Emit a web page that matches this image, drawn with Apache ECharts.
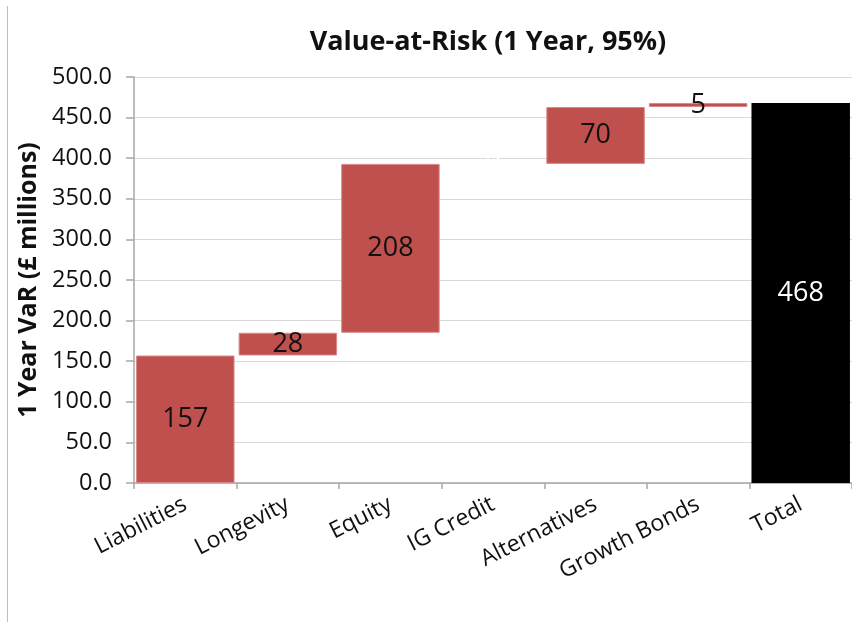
<!DOCTYPE html>
<html>
<head>
<meta charset="utf-8">
<script src="https://cdn.jsdelivr.net/npm/echarts@6/dist/echarts.min.js"></script>
<style>html,body{margin:0;padding:0;background:#fff}#c{width:852px;height:622px}</style>
</head>
<body>
<div id="c"></div>
<script>
var categories = ['Liabilities', 'Longevity', 'Equity', 'IG Credit', 'Alternatives', 'Growth Bonds', 'Total'];
var baseValues = [0, 157, 185, 393, 393, 463, 0];
var stepValues = [157, 28, 208, 0, 70, 5, 468];
var yTicks = {min: 0, max: 500, interval: 50};

var chart = echarts.init(document.getElementById('c'), null, {renderer: 'canvas'});
var FONT = '"Open Sans", "DejaVu Sans", sans-serif';
var barData = stepValues.map(function (v, i) {
  var isTotal = i === categories.length - 1;
  var isZero = v === 0;
  return {
    value: v,
    itemStyle: {
      color: isTotal ? '#000000' : '#C0504D',
      borderColor: isTotal ? '#000000' : '#D98A88',
      borderWidth: (isTotal || isZero) ? 0 : 1
    },
    label: {color: (isTotal || isZero) ? '#ffffff' : '#111111'}
  };
});
chart.setOption({
  animation: false,
  title: {
    text: 'Value-at-Risk (1 Year, 95%)',
    left: 483, top: 24, textAlign: 'center',
    textStyle: {fontFamily: FONT, fontWeight: 'bold', fontSize: 27, color: '#111'}
  },
  grid: {left: 134, top: 77, width: 728, height: 406, containLabel: false},
  xAxis: {
    type: 'category',
    data: categories,
    axisLine: {lineStyle: {color: '#A6A6A6', width: 1.5}},
    axisTick: {show: true, length: 6, lineStyle: {color: '#A6A6A6', width: 1.5}},
    axisLabel: {
      rotate: 27, interval: 0, margin: 20,
      fontFamily: FONT, fontSize: 23, color: '#111'
    }
  },
  yAxis: {
    type: 'value',
    min: yTicks.min, max: yTicks.max, interval: yTicks.interval,
    name: '1 Year VaR (£ millions)',
    nameLocation: 'middle', nameGap: 87, nameRotate: 90,
    nameTextStyle: {fontFamily: FONT, fontWeight: 'bold', fontSize: 25, color: '#111'},
    axisLine: {show: true, lineStyle: {color: '#A6A6A6', width: 1.5}},
    axisTick: {show: true, length: 8, inside: false, lineStyle: {color: '#A6A6A6', width: 1.5}},
    axisLabel: {
      formatter: function (v) { return v.toFixed(1); },
      fontFamily: FONT, fontSize: 23.5, color: '#111', margin: 22
    },
    splitLine: {show: true, lineStyle: {color: '#D9D9D9', width: 1}}
  },
  series: [
    {
      type: 'bar', stack: 'w', data: baseValues,
      itemStyle: {color: 'transparent'}, silent: true,
      barCategoryGap: '4%'
    },
    {
      type: 'bar', stack: 'w', data: barData,
      barCategoryGap: '4%',
      label: {show: true, position: 'inside', fontFamily: FONT, fontSize: 27}
    }
  ],
  graphic: [
    {type: 'line', shape: {x1: 7.5, y1: 6, x2: 7.5, y2: 622}, style: {stroke: '#BFBFBF', lineWidth: 1}}
  ]
});
</script>
</body>
</html>
